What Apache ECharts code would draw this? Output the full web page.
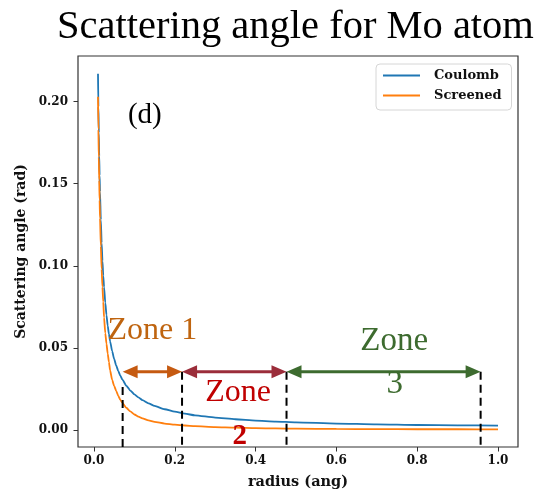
<!DOCTYPE html>
<html>
<head>
<meta charset="utf-8">
<script src="https://cdn.jsdelivr.net/npm/echarts@6/dist/echarts.min.js"></script>
<style>
  html, body { margin: 0; padding: 0; background: #fff; }
  #main { width: 539px; height: 489px; }
</style>
</head>
<body>
<div id="main"></div>
<script>
// radius (ang) and scattering angle (rad)
const radius = [0.01, 0.011, 0.012, 0.013, 0.014, 0.015, 0.017, 0.019, 0.021, 0.023, 0.025, 0.028, 0.031, 0.034, 0.037,
  0.04, 0.045, 0.05, 0.055, 0.06, 0.065, 0.07, 0.08, 0.09, 0.1, 0.11, 0.12, 0.135, 0.15, 0.175, 0.2, 0.225, 0.25,
  0.3, 0.35, 0.4, 0.45, 0.5, 0.6, 0.7, 0.8, 0.9, 1.0]
const coulomb = [0.217, 0.197, 0.181, 0.167, 0.155, 0.145, 0.128, 0.114, 0.103, 0.094, 0.087, 0.0775, 0.070, 0.0635, 0.0585,
  0.054, 0.048, 0.0432, 0.0393, 0.036, 0.0332, 0.0308, 0.027, 0.024, 0.0217, 0.0198, 0.0182, 0.0162, 0.0146, 0.0126, 0.0111, 0.0099, 0.0089,
  0.0075, 0.0065, 0.0057, 0.0051, 0.0046, 0.0039, 0.0034, 0.0030, 0.0028, 0.0026]
const screened = [0.203, 0.183, 0.166, 0.152, 0.140, 0.129, 0.112, 0.098, 0.087, 0.078, 0.0685, 0.059, 0.0525, 0.0465, 0.0415,
  0.0362, 0.0305, 0.0268, 0.0238, 0.0209, 0.0185, 0.0166, 0.0135, 0.0113, 0.0094, 0.0081, 0.0070, 0.0058, 0.0049, 0.0039, 0.0032, 0.0027, 0.0023,
  0.0017, 0.0014, 0.0011, 0.0009, 0.0008, 0.0006, 0.0005, 0.0004, 0.0004, 0.0003]

const xTicks = [0, 0.2, 0.4, 0.6, 0.8, 1.0]
const yTicks = [0, 0.05, 0.1, 0.15, 0.2]

// zone annotations (data coords)
const zoneBounds = [0.071, 0.218, 0.4766, 0.957]
const zoneColors = ['#c55a11', '#9b2d3a', '#3d6b2f']
const arrowY = 0.0355
const dashTops = [0.0262, 0.0355, 0.0355, 0.0355]
const labels = [
  { text: '(d)', x: 0.126, y: 0.1915, color: '#000', font: '29px "Liberation Serif"' },
  { text: 'Zone 1', x: 0.1446, y: 0.0603, color: '#bf640f', font: '32px "Liberation Serif"' },
  { text: 'Zone', x: 0.357, y: 0.0225, color: '#c00000', font: '32px "Liberation Serif"' },
  { text: '2', x: 0.361, y: -0.0042, color: '#c00000', font: 'bold 29px "Liberation Serif"' },
  { text: 'Zone', x: 0.743, y: 0.0538, color: '#3d6b2f', font: '33px "Liberation Serif"' },
  { text: '3', x: 0.7446, y: 0.0276, color: '#3d6b2f', font: '33px "Liberation Serif"' }
]

const tickFont = { fontFamily: 'DejaVu Serif', fontWeight: 'bold', fontSize: 12, color: '#111' }

const chart = echarts.init(document.getElementById('main'))

const option = {
  animation: false,
  backgroundColor: '#fff',
  title: {
    text: 'Scattering angle for Mo atom',
    left: 52,
    top: 2,
    textStyle: { fontFamily: 'Liberation Serif', fontWeight: 'normal', fontSize: 40.5, color: '#000' }
  },
  legend: {
    orient: 'vertical',
    left: 376,
    top: 64,
    padding: [5, 10, 8, 6],
    itemWidth: 37,
    itemHeight: 14,
    itemGap: 7,
    itemStyle: { opacity: 0 },
    borderColor: '#d6d6d6',
    borderWidth: 1,
    borderRadius: 4,
    backgroundColor: 'rgba(255,255,255,0.85)',
    textStyle: { fontFamily: 'DejaVu Serif', fontWeight: 'bold', fontSize: 13, color: '#111', padding: [0, 0, 0, 9] },
    data: ['Coulomb', 'Screened']
  },
  grid: {
    left: 78, right: 21, top: 56, bottom: 42,
    outerBoundsMode: 'none',
    containLabel: false,
    show: true, borderColor: '#333', borderWidth: 1.2
  },
  xAxis: {
    type: 'value',
    min: -0.0395, max: 1.0495,
    name: 'radius (ang)',
    nameLocation: 'middle',
    nameGap: 28,
    nameTextStyle: { fontFamily: 'DejaVu Serif', fontWeight: 'bold', fontSize: 14.5, color: '#111' },
    axisLine: { show: false, onZero: false },
    axisTick: { show: true, length: 4.5, customValues: xTicks, lineStyle: { color: '#333' } },
    axisLabel: { ...tickFont, margin: 8, customValues: xTicks, formatter: v => v.toFixed(1) },
    splitLine: { show: false }
  },
  yAxis: {
    type: 'value',
    min: -0.0104, max: 0.2278,
    name: 'Scattering angle (rad)',
    nameLocation: 'middle',
    nameGap: 50,
    nameTextStyle: { fontFamily: 'DejaVu Serif', fontWeight: 'bold', fontSize: 14, color: '#111' },
    axisLine: { show: false, onZero: false },
    axisTick: { show: true, length: 4.5, customValues: yTicks, lineStyle: { color: '#333' } },
    axisLabel: { ...tickFont, margin: 10, customValues: yTicks, formatter: v => v.toFixed(2) },
    splitLine: { show: false }
  },
  series: [
    {
      name: 'Coulomb', type: 'line', symbol: 'none', smooth: 0.2, smoothMonotone: 'x',
      color: '#1f77b4', lineStyle: { width: 1.8 },
      data: radius.map((r, i) => [r, coulomb[i]])
    },
    {
      name: 'Screened', type: 'line', symbol: 'none', smooth: 0.2, smoothMonotone: 'x',
      color: '#ff7f0e', lineStyle: { width: 1.8 },
      data: radius.map((r, i) => [r, screened[i]])
    }
  ]
}

chart.setOption(option)

// overlay: dashed zone borders, double arrows, text labels
function drawOverlay() {
  const px = (x, y) => chart.convertToPixel({ gridIndex: 0 }, [x, y])
  const els = []
  const yBottom = px(0, -0.0104)[1]

  zoneBounds.forEach((x, i) => {
    const top = px(x, dashTops[i])
    els.push({
      type: 'line', z: 50,
      shape: { x1: top[0], y1: top[1], x2: top[0], y2: yBottom },
      style: { stroke: '#000', lineWidth: 2, lineDash: [8, 5] }
    })
  })

  const headLen = 15, headHalf = 6.5
  zoneColors.forEach((c, i) => {
    const a = px(zoneBounds[i], arrowY)
    const b = px(zoneBounds[i + 1], arrowY)
    els.push({
      type: 'line', z: 60,
      shape: { x1: a[0] + headLen - 2, y1: a[1], x2: b[0] - headLen + 2, y2: b[1] },
      style: { stroke: c, lineWidth: 3 }
    })
    els.push({
      type: 'polygon', z: 61,
      shape: { points: [[a[0], a[1]], [a[0] + headLen, a[1] - headHalf], [a[0] + headLen, a[1] + headHalf]] },
      style: { fill: c }
    })
    els.push({
      type: 'polygon', z: 61,
      shape: { points: [[b[0], b[1]], [b[0] - headLen, b[1] - headHalf], [b[0] - headLen, b[1] + headHalf]] },
      style: { fill: c }
    })
  })

  labels.forEach(l => {
    const p = px(l.x, l.y)
    els.push({
      type: 'text', z: 70, x: p[0], y: p[1],
      style: { text: l.text, font: l.font, fill: l.color, align: 'center', verticalAlign: 'middle' }
    })
  })

  chart.setOption({ graphic: els })
}
drawOverlay()
</script>
</body>
</html>
